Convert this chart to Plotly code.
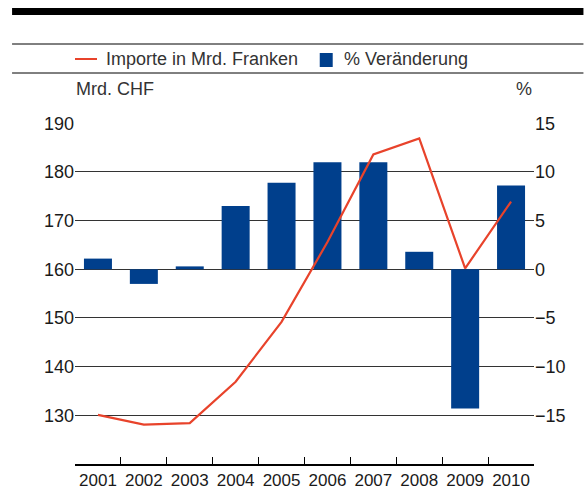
import plotly.graph_objects as go

years = ["2001", "2002", "2003", "2004", "2005", "2006", "2007", "2008", "2009", "2010"]
imports_chf = [130.1, 128.1, 128.4, 136.9, 149.2, 165.6, 183.6, 186.9, 160.2, 173.9]
pct_change = [1.1, -1.5, 0.3, 6.5, 8.9, 11.0, 11.0, 1.8, -14.3, 8.6]

left_ticks = [130, 140, 150, 160, 170, 180, 190]
right_ticks = [-15, -10, -5, 0, 5, 10, 15]
right_labels = ["\u221215", "\u221210", "\u22125", "0", "5", "10", "15"]

BLUE = "#003F8C"
RED = "#E8432B"
TXT = "#1a1a1a"
FONT = "Liberation Sans, Arial, sans-serif"

W, H = 584, 489
L, R = 75, 534.5
T, B = 123.0, 464
lo, hi = 120.0, 190.06

fig = go.Figure()
# bars on primary (right, %) axis; line on overlaying (left, CHF) axis so it is drawn above bars
fig.add_trace(go.Bar(x=years, y=pct_change, yaxis="y", marker=dict(color=BLUE, line=dict(width=0)),
                     width=0.61, name="% Veränderung", showlegend=False))
fig.add_trace(go.Scatter(x=years, y=imports_chf, yaxis="y2", mode="lines",
                         line=dict(color=RED, width=2.2), name="Importe in Mrd. Franken", showlegend=False))


def px(x):
    return (x - L) / (R - L)


def py(y):
    return (B - y) / (B - T)


shapes = [
    dict(type="rect", xref="paper", yref="paper", x0=px(12), x1=px(584), y0=py(15), y1=py(8),
         fillcolor="black", line=dict(width=0)),
    dict(type="line", xref="paper", yref="paper", x0=px(12), x1=px(584), y0=py(44), y1=py(44),
         line=dict(color="black", width=1)),
    dict(type="line", xref="paper", yref="paper", x0=px(12), x1=px(584), y0=py(73), y1=py(73),
         line=dict(color="black", width=1)),
    dict(type="line", xref="paper", yref="paper", x0=px(75), x1=px(97), y0=py(59), y1=py(59),
         line=dict(color=RED, width=2)),
    dict(type="rect", xref="paper", yref="paper", x0=px(320), x1=px(333), y0=py(67), y1=py(53),
         fillcolor=BLUE, line=dict(width=0)),
]

annotations = [
    dict(text="Importe in Mrd. Franken", x=px(104), y=py(59), xref="paper", yref="paper",
         xanchor="left", yanchor="middle", showarrow=False, font=dict(size=18, color="#333", family=FONT)),
    dict(text="% Veränderung", x=px(342), y=py(59), xref="paper", yref="paper",
         xanchor="left", yanchor="middle", showarrow=False, font=dict(size=18, color="#333", family=FONT)),
    dict(text="Mrd. CHF", x=px(74), y=py(89), xref="paper", yref="paper",
         xanchor="left", yanchor="middle", showarrow=False, font=dict(size=18, color="#333", family=FONT)),
    dict(text="%", x=px(535), y=py(89), xref="paper", yref="paper",
         xanchor="right", yanchor="middle", showarrow=False, font=dict(size=18, color="#333", family=FONT)),
]

fig.update_layout(
    width=W, height=H,
    margin=dict(l=L, r=W - R, t=T, b=H - B, pad=0, autoexpand=False),
    paper_bgcolor="white", plot_bgcolor="white",
    font=dict(family=FONT, size=18, color=TXT),
    shapes=shapes, annotations=annotations,
    xaxis=dict(type="category", showgrid=False, showline=True, linecolor="black", linewidth=1.5,
               ticks="inside", tickson="boundaries", ticklen=7, tickcolor="black", tickwidth=1,
               tickangle=0, automargin=False,
               tickfont=dict(size=17, color=TXT), zeroline=False),
    yaxis=dict(range=[(lo - 160) / 2, (hi - 160) / 2], side="right",
               tickvals=right_ticks, ticktext=right_labels, showgrid=True, gridcolor="#333", gridwidth=1,
               zeroline=False, showline=False, ticks="", automargin=False,
               tickfont=dict(size=18, color=TXT)),
    yaxis2=dict(range=[lo, hi], overlaying="y", side="left", tickvals=left_ticks,
                showgrid=False, zeroline=False, showline=False, ticks="", automargin=False,
                tickfont=dict(size=18, color=TXT)),
)

fig.write_html("out.html", config={"displayModeBar": False},
               post_script="document.body.style.margin='0px';document.body.style.overflow='hidden';")
